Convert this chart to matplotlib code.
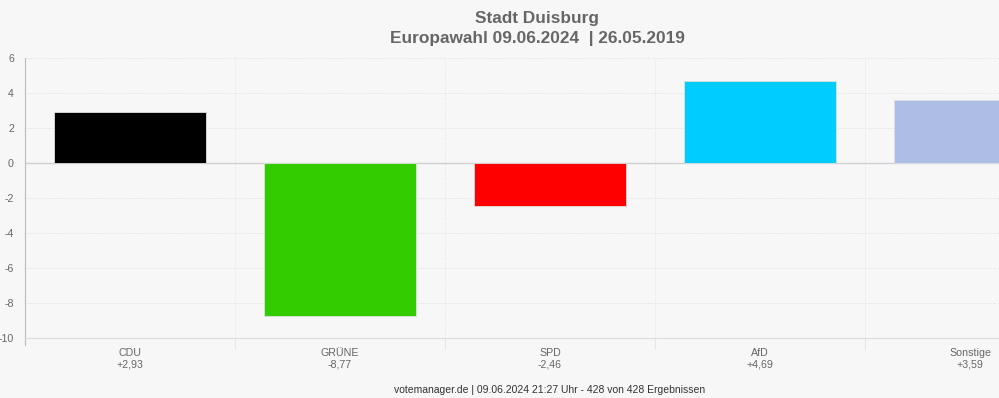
import matplotlib
matplotlib.use("Agg")
import matplotlib.pyplot as plt
from matplotlib.ticker import FixedLocator

parties = ["CDU", "GRÜNE", "SPD", "AfD", "Sonstige"]
changes = [2.93, -8.77, -2.46, 4.69, 3.59]
colors = ["#000000", "#33cc00", "#ff0000", "#00ccff", "#aebde6"]
y_ticks = [-10, -8, -6, -4, -2, 0, 2, 4, 6]

plt.rcParams["font.family"] = ["Liberation Sans", "DejaVu Sans"]

W, H = 999, 398
fig = plt.figure(figsize=(W / 100, H / 100), dpi=100)
fig.patch.set_facecolor("#f7f7f7")

ax = fig.add_axes([25 / W, (H - 338) / H, 1050 / W, 280 / H])
ax.set_facecolor("#f7f7f7")

x = list(range(len(parties)))
ax.bar(x, changes, width=0.72, color=colors, edgecolor="#e0e0e0", linewidth=0.6, zorder=3)

ax.set_xlim(-0.5, len(parties) - 0.5)
ax.set_ylim(-10, 6)
ax.set_yticks(y_ticks)
ax.set_yticklabels([str(v) for v in y_ticks])

def fmt(v):
    return f"{v:+.2f}".replace(".", ",")

ax.set_xticks(x)
ax.set_xticklabels([f"{p}\n{fmt(v)}" for p, v in zip(parties, changes)])
ax.xaxis.set_minor_locator(FixedLocator([i + 0.5 for i in range(len(parties) - 1)]))

ax.tick_params(axis="x", which="major", length=0, pad=7, labelsize=7.7, labelcolor="#666666")
ax.tick_params(axis="x", which="minor", length=8, color="#e6e6e6", width=0.8)
ax.tick_params(axis="y", length=0, pad=8, labelsize=7.7, labelcolor="#666666")
for t in ax.get_xticklabels():
    t.set_linespacing(1.25)

ax.grid(axis="y", which="major", color="#e0e0e0", linestyle=(0, (1.5, 1.5)), linewidth=0.6, zorder=0)
ax.grid(axis="x", which="minor", color="#e4e4e4", linestyle=(0, (1.5, 1.5)), linewidth=0.6, zorder=0)
ax.axhline(0, color="#cfcfcf", linewidth=1.0, zorder=2)

for s in ["top", "right"]:
    ax.spines[s].set_visible(False)
ax.spines["left"].set_color("#bbbbbb")
ax.spines["left"].set_bounds(-10.4, 6)
ax.spines["bottom"].set_color("#dddddd")
ax.spines["bottom"].set_linewidth(0.8)

fig.text(537 / W, 1 - 18 / H, "Stadt Duisburg", ha="center", va="center",
         fontsize=12.4, fontweight="bold", color="#666666")
fig.text(537 / W, 1 - 39 / H, "Europawahl 09.06.2024  | 26.05.2019", ha="center", va="center",
         fontsize=12.4, fontweight="bold", color="#666666")

fig.text(550 / W, 1 - 390 / H, "votemanager.de | 09.06.2024 21:27 Uhr - 428 von 428 Ergebnissen",
         ha="center", va="center", fontsize=7.5, color="#333333")

fig.savefig("out.png", dpi=100, facecolor=fig.get_facecolor())
